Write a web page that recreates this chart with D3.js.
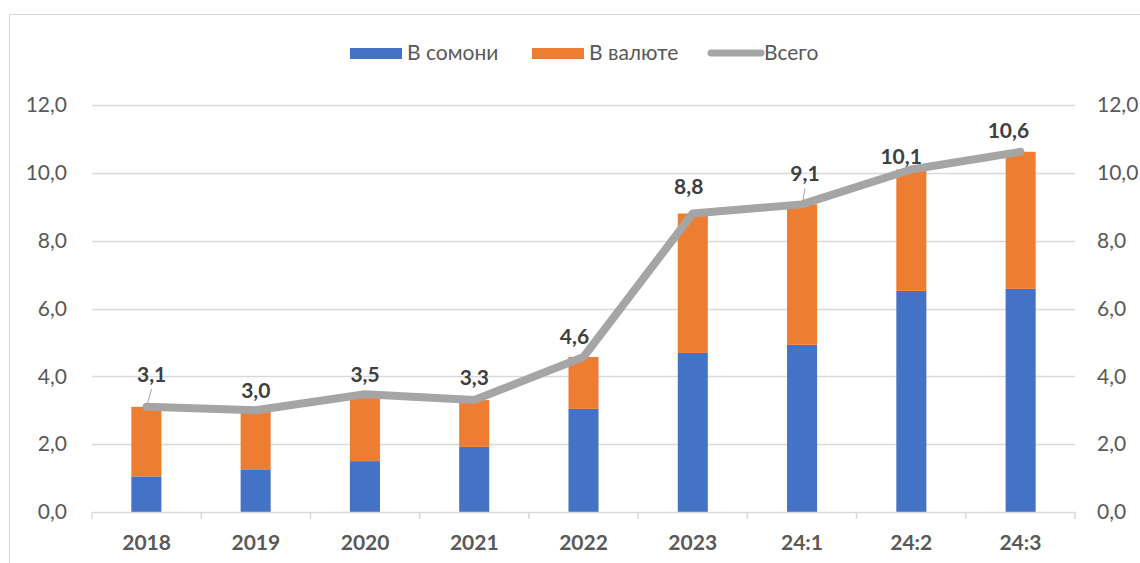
<!DOCTYPE html>
<html>
<head>
<meta charset="utf-8">
<style>
  body { margin: 0; background: #fff; }
  svg { font-family: Lato, "Open Sans", sans-serif; }
</style>
</head>
<body>
<script src="https://d3js.org/d3.v7.min.js"></script>
<script>
  const categories = ['2018', '2019', '2020', '2021', '2022', '2023', '24:1', '24:2', '24:3'];
  const somoni = [1.05, 1.24, 1.5, 1.92, 3.04, 4.69, 4.93, 6.52, 6.58];
  const total = [3.1, 3.0, 3.47, 3.3, 4.57, 8.8, 9.07, 10.1, 10.62];
  const yTicks = [0, 2, 4, 6, 8, 10, 12];
  const seriesNames = ['В сомони', 'В валюте', 'Всего'];

  const width = 1140, height = 563;
  const margin = { top: 105, right: 65, bottom: 51, left: 92 };
  const font = 'Lato, "Open Sans", sans-serif';

  const svg = d3.select('body').append('svg')
    .attr('width', width)
    .attr('height', height);

  // chart frame
  svg.append('rect')
    .attr('x', 9.5).attr('y', 14.5)
    .attr('width', width + 20).attr('height', height + 20)
    .attr('fill', 'none').attr('stroke', '#d9d9d9');

  const x = d3.scaleBand()
    .domain(categories)
    .range([margin.left, width - margin.right])
    .paddingInner(0.725).paddingOuter(0.36);

  const xOuter = d3.scaleBand()
    .domain(categories)
    .range([margin.left, width - margin.right]);

  const y = d3.scaleLinear()
    .domain([0, 12])
    .range([height - margin.bottom, margin.top]);

  const fmt = v => d3.format('.1f')(v).replace('.', ',');

  // gridlines
  svg.append('g')
    .selectAll('line')
    .data(yTicks.filter(d => d > 0))
    .join('line')
    .attr('x1', margin.left).attr('x2', width - margin.right)
    .attr('y1', d => Math.round(y(d)) + 0.5).attr('y2', d => Math.round(y(d)) + 0.5)
    .attr('stroke', '#d9d9d9').attr('stroke-width', 1.5);

  // left and right axes
  const leftAxis = svg.append('g')
    .attr('transform', `translate(${margin.left - 22},0)`)
    .call(d3.axisLeft(y).tickValues(yTicks).tickFormat(fmt).tickSize(0));
  const rightAxis = svg.append('g')
    .attr('transform', `translate(${width - margin.right + 19},0)`)
    .call(d3.axisRight(y).tickValues(yTicks).tickFormat(fmt).tickSize(0));
  [leftAxis, rightAxis].forEach(a => {
    a.select('.domain').remove();
    a.selectAll('text')
      .attr('fill', '#595959')
      .style('font-size', '21px')
      .style('font-family', font);
  });

  // stacked bars
  const bars = svg.append('g');
  bars.selectAll('rect.somoni')
    .data(categories)
    .join('rect')
    .attr('class', 'somoni')
    .attr('x', d => x(d))
    .attr('width', x.bandwidth())
    .attr('y', (d, i) => y(somoni[i]))
    .attr('height', (d, i) => y(0) - y(somoni[i]))
    .attr('fill', '#4472c4');

  bars.selectAll('rect.valuta')
    .data(categories)
    .join('rect')
    .attr('class', 'valuta')
    .attr('x', d => x(d))
    .attr('width', x.bandwidth())
    .attr('y', (d, i) => y(total[i]))
    .attr('height', (d, i) => y(somoni[i]) - y(total[i]))
    .attr('fill', '#ed7d31');

  // x axis
  const xAxis = svg.append('g')
    .attr('transform', `translate(0,${y(0)})`)
    .call(d3.axisBottom(xOuter).tickSize(0).tickPadding(23));
  xAxis.select('.domain').attr('stroke', '#d9d9d9').attr('stroke-width', 1.5);
  xAxis.selectAll('text')
    .attr('fill', '#595959')
    .style('font-size', '21px')
    .style('font-weight', 'bold')
    .style('font-family', font);
  xAxis.selectAll('line.sep')
    .data(d3.range(categories.length + 1))
    .join('line')
    .attr('class', 'sep')
    .attr('x1', i => margin.left + i * xOuter.step())
    .attr('x2', i => margin.left + i * xOuter.step())
    .attr('y1', 0).attr('y2', 7)
    .attr('stroke', '#d9d9d9').attr('stroke-width', 1.5);

  // total line
  const cx = i => xOuter(categories[i]) + xOuter.bandwidth() / 2;
  const line = d3.line()
    .x((d, i) => cx(i))
    .y(d => y(d));
  svg.append('path')
    .datum(total)
    .attr('d', line)
    .attr('fill', 'none')
    .attr('stroke', '#a5a5a5')
    .attr('stroke-width', 8)
    .attr('stroke-linecap', 'round')
    .attr('stroke-linejoin', 'round');

  // data labels
  const labelDx = [5, 0, 0, 0, -9, -4, 3, -10, -12];
  const labelDy = [-25, -12, -12, -15, -13, -20, -23, -5, -14];
  svg.append('g')
    .selectAll('line')
    .data([0, 6])
    .join('line')
    .attr('x1', i => cx(i) + 1)
    .attr('x2', i => cx(i) + (i === 0 ? 5 : 3))
    .attr('y1', i => y(total[i]) - 4)
    .attr('y2', i => y(total[i]) + labelDy[i] + 7)
    .attr('stroke', '#a5a5a5').attr('stroke-width', 1);

  svg.append('g')
    .selectAll('text')
    .data(total)
    .join('text')
    .attr('x', (d, i) => cx(i) + labelDx[i])
    .attr('y', (d, i) => y(d) + labelDy[i])
    .attr('text-anchor', 'middle')
    .attr('fill', '#404040')
    .style('font-size', '21px')
    .style('font-weight', 'bold')
    .text(fmt);

  // legend
  const legend = svg.append('g');
  const legendX = [350, 532, 707];
  const legendColors = ['#4472c4', '#ed7d31', '#a5a5a5'];
  seriesNames.forEach((name, i) => {
    const g = legend.append('g').attr('transform', `translate(${legendX[i]},53)`);
    if (i < 2) {
      g.append('rect').attr('x', 0).attr('y', -5).attr('width', 52).attr('height', 11)
        .attr('fill', legendColors[i]);
      g.append('text').attr('x', 57).attr('y', 7).attr('fill', '#595959')
        .style('font-size', '21px').text(name);
    } else {
      g.append('line').attr('x1', 4).attr('x2', 54).attr('y1', 0).attr('y2', 0)
        .attr('stroke', legendColors[i]).attr('stroke-width', 7).attr('stroke-linecap', 'round');
      g.append('text').attr('x', 57).attr('y', 7).attr('fill', '#595959')
        .style('font-size', '21px').text(name);
    }
  });
</script>
</body>
</html>
